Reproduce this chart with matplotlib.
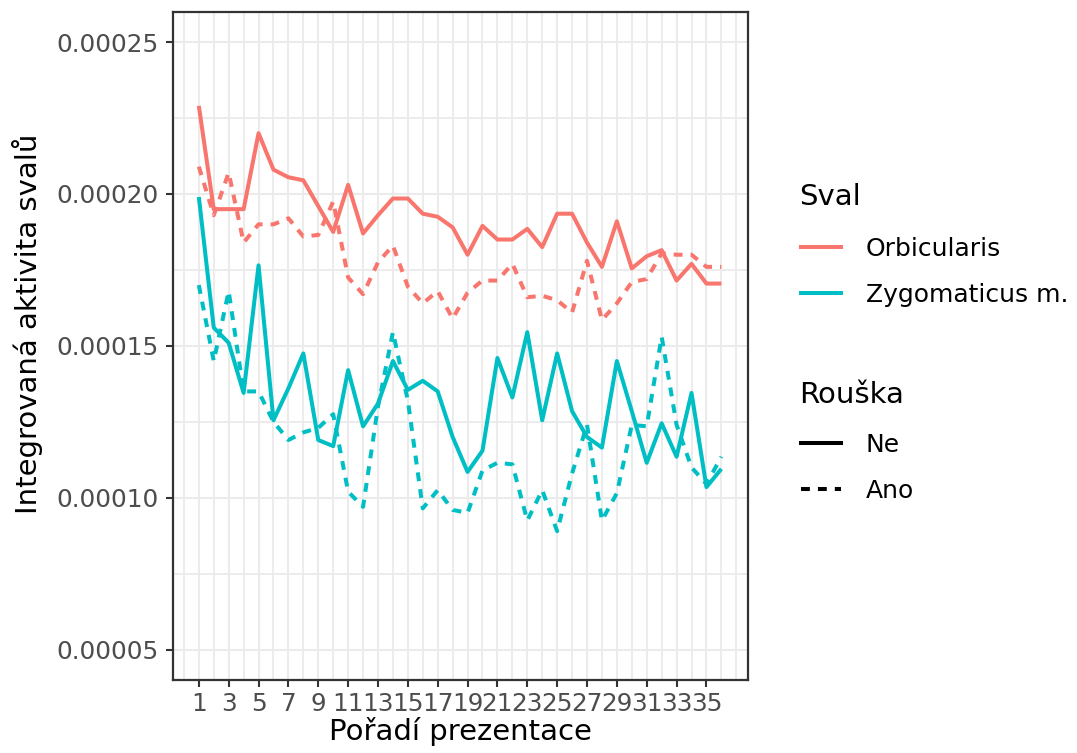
import matplotlib
matplotlib.use("Agg")
import matplotlib.pyplot as plt
from matplotlib.lines import Line2D
import numpy as np

# ---------------- data (values in units of 1e-5) ----------------
poradi = list(range(1, 37))

orb_ne = [22.9, 19.5, 19.5, 19.5, 22.0, 20.8, 20.55, 20.45, 19.6, 18.75,
          20.3, 18.7, 19.3, 19.85, 19.85, 19.35, 19.25, 18.9, 18.0, 18.95,
          18.5, 18.5, 18.85, 18.25, 19.35, 19.35, 18.4, 17.6, 19.1, 17.55,
          17.95, 18.15, 17.15, 17.7, 17.05, 17.05]
orb_ano = [20.9, 19.3, 20.7, 18.4, 19.0, 19.0, 19.2, 18.6, 18.65, 19.75,
           17.25, 16.7, 17.75, 18.3, 16.95, 16.4, 16.8, 15.9, 16.75, 17.15,
           17.15, 17.7, 16.6, 16.65, 16.5, 16.1, 17.8, 15.85, 16.4, 17.1,
           17.2, 18.05, 18.0, 18.0, 17.6, 17.6]
zyg_ne = [19.9, 15.6, 15.1, 13.45, 17.65, 12.55, 13.6, 14.75, 11.9, 11.7,
          14.2, 12.35, 13.1, 14.5, 13.55, 13.85, 13.5, 12.0, 10.85, 11.55,
          14.6, 13.3, 15.45, 12.55, 14.75, 12.85, 12.0, 11.65, 14.5, 12.85,
          11.15, 12.45, 11.35, 13.45, 10.35, 10.95]
zyg_ano = [17.0, 14.5, 16.8, 13.5, 13.5, 12.5, 11.9, 12.15, 12.3, 12.75,
           10.2, 9.7, 13.0, 15.45, 13.2, 9.65, 10.25, 9.6, 9.5, 10.9,
           11.15, 11.1, 9.25, 10.25, 8.9, 10.8, 12.4, 9.25, 10.15, 12.4,
           12.35, 15.3, 12.4, 11.0, 10.45, 11.35]

svaly = ["Orbicularis", "Zygomaticus m."]
rouska = ["Ne", "Ano"]
x_breaks = list(range(1, 36, 2))
y_breaks = [0.00005, 0.00010, 0.00015, 0.00020, 0.00025]

SCALE = 1e-5
COL = {"Orbicularis": "#F8766D", "Zygomaticus m.": "#00BFC4"}
LW = 2.9
DASH = (2.2, 2.0)

series = [
    ("Orbicularis", "Ne", orb_ne),
    ("Orbicularis", "Ano", orb_ano),
    ("Zygomaticus m.", "Ne", zyg_ne),
    ("Zygomaticus m.", "Ano", zyg_ano),
]

# ---------------- figure ----------------
W, H = 1077, 753
fig = plt.figure(figsize=(W / 100, H / 100), dpi=100)
fig.patch.set_facecolor("white")
ax = fig.add_axes([172.7 / W, 1 - 680 / H, (747.5 - 172.7) / W, (680 - 11.7) / H])
ax.set_facecolor("white")

for sval, r, vals in series:
    y = np.array(vals) * SCALE
    ls = "-" if r == "Ne" else (0, DASH)
    ax.plot(poradi, y, color=COL[sval], lw=LW, linestyle=ls, zorder=3,
            solid_capstyle="butt", dash_capstyle="butt")

# limits with 5% expansion
xmin, xmax = 1, 36
xr = xmax - xmin
ax.set_xlim(xmin - 0.05 * xr, xmax + 0.05 * xr)
ymin, ymax = 0.00005, 0.00025
yr = ymax - ymin
ax.set_ylim(ymin - 0.05 * yr, ymax + 0.05 * yr)

# grid
grid_c = "#EBEBEB"
ax.set_xticks(x_breaks)
ax.set_xticklabels([str(b) for b in x_breaks])
ax.set_xticks([v for v in range(0, 38) if v not in x_breaks], minor=True)
ax.set_yticks(y_breaks)
ax.set_yticklabels([f"{b:.5f}" for b in y_breaks])
ax.set_yticks([0.000075, 0.000125, 0.000175, 0.000225], minor=True)
ax.grid(which="major", color=grid_c, lw=1.5, zorder=0)
ax.grid(which="minor", color=grid_c, lw=1.3, zorder=0)
ax.set_axisbelow(True)

for s in ax.spines.values():
    s.set_color("#333333")
    s.set_linewidth(1.6)

ax.tick_params(axis="both", which="major", length=5, width=1.5, color="#333333",
               labelsize=17.8, labelcolor="#4D4D4D")
ax.tick_params(axis="x", which="major", pad=3.5)
ax.tick_params(axis="y", which="major", pad=5)
ax.tick_params(axis="both", which="minor", length=0)

ax.set_xlabel("Pořadí prezentace", fontsize=21, color="black", labelpad=1)
ax.set_ylabel("Integrovaná aktivita svalů", fontsize=21, color="black")
ax.yaxis.set_label_coords((43 - 172.7) / 574.8, (680 - 324) / 668.3)

# ---------------- legends ----------------
h1 = [Line2D([], [], color=COL[s], lw=LW) for s in svaly]
h2 = [Line2D([], [], color="black", lw=LW, linestyle="-" if r == "Ne" else (0, DASH))
      for r in rouska]

common = dict(frameon=False, borderpad=0, borderaxespad=0, handlelength=1.6,
              handletextpad=1.0, labelspacing=0.88, fontsize=18, loc="upper left")
leg1 = fig.legend(h1, svaly, bbox_to_anchor=(801 / W, 1 - 237 / H), **common)
leg2 = fig.legend(h2, rouska, bbox_to_anchor=(801 / W, 1 - 433 / H), **common)
fig.text(799 / W, 1 - 205 / H, "Sval", fontsize=21, ha="left", va="baseline")
fig.text(799 / W, 1 - 403 / H, "Rouška", fontsize=21, ha="left", va="baseline")

fig.savefig("out.png", dpi=100, facecolor="white")
